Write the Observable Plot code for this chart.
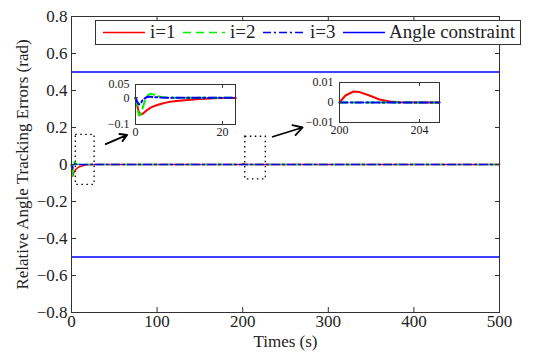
<!DOCTYPE html>
<html><head><meta charset="utf-8">
<script src="https://cdn.jsdelivr.net/npm/d3@7"></script>
<script src="https://cdn.jsdelivr.net/npm/@observablehq/plot@0.6"></script>
<style>
body{margin:0;background:#fff;}
#wrap{position:relative;width:550px;height:355px;overflow:hidden;font-family:'Liberation Serif',serif;}
#wrap svg{position:absolute;}
#wrap svg, #wrap svg text{font-family:'Liberation Serif',serif !important;}
</style></head><body><div id="wrap"></div>
<script>
// time samples (s)
const time = [0, 0.4, 0.8, 1.2, 1.6, 2, 2.5, 3, 3.5, 4, 5, 6, 7, 8, 10, 12, 14, 16, 18, 20, 23, 30, 100, 200, 200.3, 200.7, 201, 201.5, 202, 202.5, 203, 204, 205, 210, 300, 400, 500];
// relative angle tracking errors (rad)
const err1 = [0, -0.03, -0.055, -0.063, -0.06, -0.055, -0.048, -0.042, -0.037, -0.033, -0.027, -0.022, -0.018, -0.015, -0.011, -0.008, -0.005, -0.003, -0.002, -0.001, -0.0005, 0, 0, 0, 0.0035, 0.0055, 0.0052, 0.0035, 0.0015, 0.0005, 0.0001, 0, 0, 0, 0, 0, 0];
const err2 = [0, -0.04, -0.066, -0.06, -0.04, -0.02, 0, 0.012, 0.015, 0.013, 0.007, 0.003, 0.001, 0, 0, 0, 0, 0, 0, 0, 0, 0, 0, 0, 0, 0, 0, 0, 0, 0, 0, 0, 0, 0, 0, 0, 0];
const err3 = [0, -0.015, -0.025, -0.02, -0.01, -0.003, 0.002, 0.004, 0.004, 0.003, 0.002, 0.001, 0.0005, 0, 0, 0, 0, 0, 0, 0, 0, 0, 0, 0, 0, 0, 0, 0, 0, 0, 0, 0, 0, 0, 0, 0, 0];
const constraint = [0.5, -0.5];
const seriesNames = ["i=1", "i=2", "i=3", "Angle constraint"];
const xTicks = [0, 100, 200, 300, 400, 500];
const yTicks = [-0.8, -0.6, -0.4, -0.2, 0, 0.2, 0.4, 0.6, 0.8];
const inset1XTicks = [0, 20];
const inset1YTicks = [-0.1, 0, 0.05];
const inset2XTicks = [200, 204];
const inset2YTicks = [-0.01, 0, 0.01];
// zoom windows and arrows (data coordinates of main plot)
const zoomX1 = [5, 203], zoomX2 = [27, 227], zoomY1 = [-0.11, -0.08], zoomY2 = [0.16, 0.15];
const arrowX1 = [40, 235], arrowY1 = [0.11, 0.15], arrowX2 = [65, 270], arrowY2 = [0.16, 0.2];

const rows = (arr) => time.map((t, i) => ({t, v: arr[i]}));
const r1 = rows(err1), r2 = rows(err2), r3 = rows(err3);
const boxes = zoomX1.map((x, i) => ({x1: x, x2: zoomX2[i], y1: zoomY1[i], y2: zoomY2[i]}));
const arrows = arrowX1.map((x, i) => ({x1: x, y1: arrowY1[i], x2: arrowX2[i], y2: arrowY2[i]}));

const FONT = "'Liberation Serif', serif";
const fmt = d => d === 0 ? "0" : d3.format("")(d).replace("-", "\u2212");
const fmt1 = d => d === 0 ? "0" : d3.format(".1f")(d);
const RED = "#ff0000", GREEN = "#00ee00", BLUE = "#0000ff";
const dashG = "8,5", dashB = "8,3,2,3";

function seriesMarks(f, w) {
  return [
    Plot.line(r1.filter(f), {x: "t", y: "v", stroke: RED, strokeWidth: w}),
    Plot.line(r2.filter(f), {x: "t", y: "v", stroke: GREEN, strokeWidth: w, strokeDasharray: dashG}),
    Plot.line(r3.filter(f), {x: "t", y: "v", stroke: BLUE, strokeWidth: w, strokeDasharray: dashB})
  ];
}

const main = Plot.plot({
  width: 550, height: 355, marginLeft: 71, marginRight: 51, marginTop: 16, marginBottom: 43,
  style: {fontFamily: FONT, fontSize: "17px", color: "#222", background: "transparent", overflow: "visible"},
  x: {domain: [0, 500]}, y: {domain: [-0.8, 0.8]},
  marks: [
    Plot.ruleY(constraint, {stroke: BLUE, strokeWidth: 1.5}),
    Plot.rect(boxes, {x1: "x1", x2: "x2", y1: "y1", y2: "y2", fill: "none", stroke: "#000", strokeWidth: 1.3, strokeDasharray: "1.5,3.5"}),
    ...seriesMarks(() => true, 1.5),
    Plot.arrow(arrows, {x1: "x1", y1: "y1", x2: "x2", y2: "y2", stroke: "#000", strokeWidth: 1.8, headLength: 10}),
    Plot.frame({stroke: "#333"}),
    Plot.axisX(xTicks, {tickSize: -5, fill: "none", stroke: "#333"}),
    Plot.axisX(xTicks, {anchor: "top", tickSize: -5, fill: "none", stroke: "#333", label: null}),
    Plot.axisY(yTicks, {tickSize: -5, fill: "none", stroke: "#333"}),
    Plot.axisY(yTicks, {anchor: "right", tickSize: -5, fill: "none", stroke: "#333", label: null}),
    Plot.axisX(xTicks, {tickSize: 0, tickPadding: 2, tickFormat: d => String(d), label: "Times (s)", labelAnchor: "center", labelOffset: 34, labelArrow: "none"}),
    Plot.axisY(yTicks, {tickSize: 0, tickPadding: 4, tickFormat: fmt1, label: "Relative Angle Tracking Errors (rad)", labelAnchor: "center", labelOffset: 56, labelArrow: "none"})
  ]
});
main.style.left = "0px"; main.style.top = "0px";
document.getElementById("wrap").appendChild(main);

function inset(xd, yd, xt, yt, f, ml, left, top) {
  const p = Plot.plot({
    width: ml + 100 + 5, height: 5 + 40 + 18, marginLeft: ml, marginRight: 5, marginTop: 5, marginBottom: 18,
    style: {fontFamily: FONT, fontSize: "12px", color: "#222", background: "transparent", overflow: "visible"},
    x: {domain: xd}, y: {domain: yd},
    marks: [
      Plot.frame({fill: "white", stroke: "none"}),
      ...seriesMarks(f, 2),
      Plot.frame({stroke: "#333"}),
      Plot.axisX(xt, {tickSize: -3, fill: "none", stroke: "#333", label: null}),
      Plot.axisX(xt, {anchor: "top", tickSize: -3, fill: "none", stroke: "#333", label: null}),
      Plot.axisY(yt, {tickSize: -3, fill: "none", stroke: "#333", label: null}),
      Plot.axisX(xt, {tickSize: 0, tickPadding: 3, tickFormat: d => String(d), label: null}),
      Plot.axisY(yt, {tickSize: 0, tickPadding: 6, tickFormat: fmt, label: null})
    ]
  });
  p.style.left = left + "px"; p.style.top = top + "px";
  document.getElementById("wrap").appendChild(p);
}
inset([0, 23], [-0.1, 0.05], inset1XTicks, inset1YTicks, d => d.t <= 23, 35, 100, 79);
inset([200, 205], [-0.01, 0.01], inset2XTicks, inset2YTicks, d => d.t >= 200 && d.t <= 205, 40, 299, 77);

// legend
const ns = "http://www.w3.org/2000/svg";
const lg = document.createElementNS(ns, "svg");
lg.setAttribute("width", 426); lg.setAttribute("height", 26);
lg.style.left = "95px"; lg.style.top = "20px";
const add = (tag, attrs, text) => { const e = document.createElementNS(ns, tag); for (const k in attrs) e.setAttribute(k, attrs[k]); if (text) e.textContent = text; lg.appendChild(e); return e; };
add("rect", {x: 0.5, y: 0.5, width: 425, height: 24, fill: "white", stroke: "#333"});
const styles = [[RED, null], [GREEN, dashG], [BLUE, dashB], [BLUE, null]];
const lx = [8, 88, 168, 248], tx = [55, 135, 215, 294];
seriesNames.forEach((n, i) => {
  const a = {x1: lx[i], x2: lx[i] + 42, y1: 12.5, y2: 12.5, stroke: styles[i][0], "stroke-width": 1.5};
  if (styles[i][1]) a["stroke-dasharray"] = styles[i][1];
  add("line", a);
  add("text", {x: tx[i], y: 18, "font-size": "19px", fill: "#222"}, n);
});
document.getElementById("wrap").appendChild(lg);
</script></body></html>
